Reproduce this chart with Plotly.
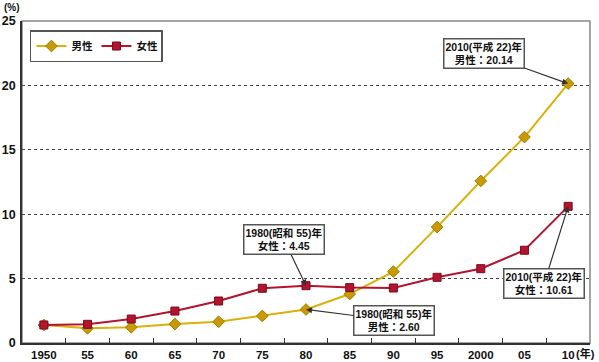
import plotly.graph_objects as go

years = ["1950", "55", "60", "65", "70", "75", "80", "85", "90", "95", "2000", "05", "10"]
male = [1.40, 1.14, 1.22, 1.47, 1.65, 2.10, 2.60, 3.80, 5.54, 9.00, 12.58, 15.99, 20.14]
female = [1.40, 1.45, 1.86, 2.48, 3.26, 4.25, 4.45, 4.30, 4.27, 5.10, 5.77, 7.20, 10.61]
y_ticks = [0, 5, 10, 15, 20, 25]

FONT = "Liberation Sans, Noto Sans CJK JP, sans-serif"
male_color = "#D9B10A"
male_marker = "#C99A06"
female_color = "#B3142E"

fig = go.Figure()
fig.add_trace(go.Scatter(
    x=years, y=male, name="男性", mode="lines+markers",
    line=dict(color=male_color, width=2),
    marker=dict(symbol="diamond", size=9, color=male_marker, line=dict(color="#A07C00", width=1)),
))
fig.add_trace(go.Scatter(
    x=years, y=female, name="女性", mode="lines+markers",
    line=dict(color=female_color, width=2),
    marker=dict(symbol="square", size=8, color=female_color, line=dict(color="#7A0A1C", width=1)),
))

def note(idx, yv, text, ax, ay):
    fig.add_annotation(
        x=idx, y=yv, xref="x", yref="y", text=text, showarrow=True,
        ax=ax, ay=ay, arrowhead=2, arrowsize=1, arrowwidth=1.2, arrowcolor="#333333",
        bgcolor="white", bordercolor="#555555", borderwidth=1.5, borderpad=1,
        font=dict(family=FONT, size=10.5, color="#111111", weight="bold"),
        align="center",
    )

i2010 = years.index("10")
i1980 = years.index("80")
note(i2010, male[i2010], "2010(平成 22)年<br>男性：20.14", -84, -30)
note(i1980, female[i1980], "1980(昭和 55)年<br>女性：4.45", -22, -46)
note(i1980, male[i1980], "1980(昭和 55)年<br>男性：2.60", 88, 11)
note(i2010, female[i2010], "2010(平成 22)年<br>女性：10.61", -24, 77)

fig.add_annotation(x=0, y=1, xref="paper", yref="paper", text="(%)", showarrow=False,
                   xanchor="center", yanchor="bottom", xshift=-10, yshift=6,
                   font=dict(family=FONT, size=10, color="#111111", weight="bold"))
fig.add_annotation(x=1, y=0, xref="paper", yref="paper", text="(年)", showarrow=False,
                   xanchor="left", yanchor="top", xshift=-16, yshift=-2,
                   font=dict(family=FONT, size=11, color="#111111", weight="bold"))

fig.add_shape(type="rect", xref="paper", yref="paper", x0=0, y0=0, x1=1, y1=1,
              line=dict(color="#888888", width=1.5), layer="below")

fig.update_layout(
    width=599, height=362,
    margin=dict(l=22, r=9, t=21, b=19),
    paper_bgcolor="white", plot_bgcolor="white",
    font=dict(family=FONT, size=12, color="#111111"),
    showlegend=True,
    legend=dict(
        x=0.014, y=0.972, xanchor="left", yanchor="top", orientation="h",
        bgcolor="white", bordercolor="#555555", borderwidth=1.5,
        font=dict(family=FONT, size=10.5, weight="bold"),
        itemwidth=30, tracegroupgap=0, entrywidth=20, entrywidthmode="pixels",
    ),
    xaxis=dict(
        type="category", categoryorder="array", categoryarray=years,
        range=[-0.5, len(years) - 0.5], automargin=False,
        tickson="boundaries", ticks="inside", ticklen=5, tickcolor="#333333",
        showline=True, linecolor="#333333", linewidth=1.5,
        showgrid=False, tickfont=dict(family=FONT, size=11.5, weight="bold"),
    ),
    yaxis=dict(
        range=[0, 25], tickvals=y_ticks, ticks="", automargin=False,
        showline=True, linecolor="#333333", linewidth=1.5,
        showgrid=True, gridcolor="#444444", griddash="dot", gridwidth=1,
        zeroline=False, tickfont=dict(family=FONT, size=12.5, weight="bold"),
        ticklabelstandoff=2,
    ),
)

fig.write_html("out.html", config={"displayModeBar": False},
               post_script="document.body.style.margin='0';")
